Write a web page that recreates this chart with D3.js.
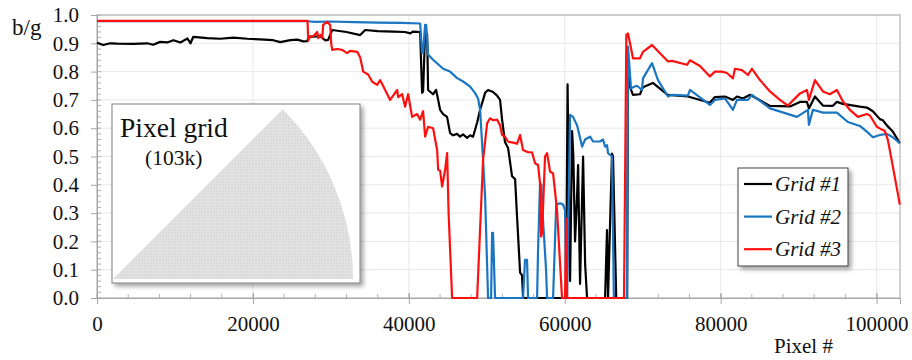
<!DOCTYPE html>
<html>
<head>
<meta charset="utf-8">
<script src="https://cdn.jsdelivr.net/npm/d3@7"></script>
<style>
  body { margin: 0; background: #fff; }
  svg text { font-family: "Liberation Serif", "DejaVu Serif", "Noto Serif", serif; }
</style>
</head>
<body>
<div id="chart"></div>
<script>
// Series values: [pixel #, b/g]
var grid1 = [
  [0,0.902],[800,0.894],[1700,0.900],[2600,0.899],[4650,0.898],[6450,0.900],[7200,0.895],[8100,0.905],
  [9000,0.903],[9800,0.911],[10700,0.903],[11600,0.917],[12000,0.900],[12350,0.923],[14150,0.918],
  [15800,0.916],[17500,0.920],[19300,0.916],[20900,0.914],[22600,0.911],[23500,0.904],[24800,0.911],
  [25700,0.913],[26450,0.907],[27000,0.908],[27100,0.923],[28600,0.925],[29300,0.910],[29650,0.912],
  [30170,0.947],[32000,0.940],[33760,0.929],[34400,0.947],[36000,0.943],[38000,0.941],[39500,0.940],
  [40200,0.935],[40500,0.941],[41450,0.940],[41700,0.725],[41830,0.730],[42090,0.945],[42350,0.930],
  [42470,0.735],[43110,0.720],[43500,0.735],[43760,0.700],[44010,0.665],[44400,0.650],[44900,0.640],
  [45290,0.583],[45680,0.575],[46190,0.580],[46570,0.570],[46960,0.578],[47470,0.566],[47860,0.575],
  [48240,0.570],[48760,0.620],[49140,0.665],[49520,0.700],[49780,0.725],[50160,0.735],[50800,0.728],
  [51320,0.715],[51700,0.700],[51960,0.630],[52340,0.550],[52730,0.530],[53240,0.430],[53630,0.420],
  [53880,0.287],[54270,0.090],[54520,0.080],[54650,0],[60170,0],[60360,0.755],[60550,0.300],
  [60680,0.060],[60940,0.590],[61100,0.500],[61320,0.200],[61580,0.360],[61710,0.470],[61960,0.050],
  [62350,0.500],[62610,0.120],[62860,0],[65170,0],[65420,0.240],[65550,0],[66060,0.510],[66190,0.500],
  [66600,0],[68000,0],[68110,0.806],[68370,0.745],[68750,0.718],[69650,0.720],[70030,0.745],
  [71300,0.760],[73200,0.718],[75800,0.712],[78600,0.690],[79260,0.710],[80550,0.712],[81570,0.700],
  [82090,0.712],[82860,0.705],[83760,0.718],[86320,0.679],[88890,0.677],[90170,0.693],[91060,0.693],
  [91320,0.670],[92090,0.712],[93110,0.680],[94390,0.679],[94900,0.693],[95670,0.686],[97850,0.676],
  [98750,0.673],[99520,0.660],[100420,0.632],[100800,0.628],[101310,0.610],[102080,0.588],[102980,0.547]
];
var grid2 = [
  [0,0.978],[27000,0.978],[28000,0.976],[30000,0.977],[33000,0.975],[36000,0.973],[39000,0.972],
  [41450,0.970],[41700,0.866],[41830,0.866],[42090,0.965],[42220,0.965],[42470,0.860],[43110,0.842],
  [44400,0.810],[45290,0.800],[46190,0.777],[46960,0.765],[47860,0.747],[48500,0.724],[48880,0.705],
  [49140,0.665],[49400,0.546],[49780,0.360],[50160,0],[50550,0],[50680,0.230],[50800,0.230],[51060,0],
  [54650,0],[54900,0.135],[55160,0.135],[55290,0],[56450,0],[56570,0.165],[56830,0.405],[57000,0.400],
  [57210,0.276],[57600,0.100],[57730,0],[58500,0],[58900,0.330],[59400,0.335],[59780,0.330],
  [60040,0.310],[60170,0],[60300,0],[60680,0.647],[61060,0.640],[61580,0.610],[62220,0.535],
  [62610,0.560],[63250,0.570],[63630,0.553],[64530,0.553],[64910,0.560],[65170,0.535],[65420,0.540],
  [65550,0.512],[66060,0.500],[66300,0],[67980,0],[68110,0.888],[68500,0.740],[68750,0.745],
  [69260,0.750],[69910,0.735],[70030,0.776],[71190,0.830],[71960,0.770],[73240,0.712],[73750,0.718],
  [75800,0.715],[76060,0.735],[78620,0.682],[79260,0.700],[80550,0.705],[81570,0.665],[82090,0.700],
  [83500,0.700],[84010,0.718],[86320,0.670],[89780,0.640],[91190,0.665],[91320,0.612],[91830,0.665],
  [93110,0.655],[94900,0.655],[96320,0.622],[97850,0.608],[98750,0.588],[99520,0.568],[100420,0.576],
  [101310,0.580],[102080,0.568],[102980,0.547]
];
var grid3 = [
  [0,0.979],[27000,0.979],[27100,0.910],[27350,0.925],[27730,0.925],[28250,0.940],[28370,0.918],
  [28630,0.930],[28890,0.918],[29010,0.965],[29520,0.976],[29910,0.965],[30040,0.900],[30170,0.877],
  [30800,0.880],[31450,0.877],[32080,0.865],[32470,0.873],[33380,0.870],[33760,0.850],[34140,0.800],
  [34780,0.790],[35300,0.764],[35940,0.753],[36320,0.770],[36960,0.735],[37600,0.700],[37990,0.715],
  [38500,0.735],[38630,0.710],[39140,0.720],[39520,0.676],[39910,0.720],[40420,0.640],[41060,0.650],
  [41450,0.630],[41830,0.660],[42090,0.570],[42470,0.605],[43110,0.600],[43630,0.523],[43760,0.453],
  [44010,0.450],[44270,0.394],[44650,0.453],[44910,0.512],[45100,0.300],[45550,0],[48760,0],
  [49520,0.488],[50040,0.617],[50420,0.635],[50800,0.628],[51320,0.630],[51700,0.610],[51960,0.576],
  [52340,0.570],[52730,0.552],[53240,0.550],[53880,0.545],[54270,0.576],[54650,0.523],[55290,0.515],
  [55800,0.515],[56190,0.476],[56570,0.470],[56830,0.405],[56960,0.217],[57090,0.230],[57470,0.500],
  [57730,0.512],[58110,0.447],[58500,0.440],[59010,0.310],[59400,0.120],[59650,0],[60040,0],
  [60170,0.280],[60300,0],[67600,0],[67900,0.930],[68110,0.935],[68370,0.900],[68750,0.847],
  [69650,0.847],[70030,0.870],[71190,0.894],[72210,0.865],[73240,0.836],[73750,0.838],[75680,0.824],
  [76060,0.840],[77340,0.820],[78620,0.783],[79260,0.800],[80160,0.800],[80800,0.795],[81570,0.776],
  [81830,0.810],[82730,0.805],[83500,0.788],[84010,0.810],[85040,0.770],[86320,0.730],[87600,0.700],
  [88630,0.680],[90170,0.723],[91060,0.735],[91320,0.700],[92090,0.770],[93110,0.730],[94010,0.720],
  [94900,0.735],[95670,0.695],[96570,0.665],[97600,0.640],[98750,0.650],[99140,0.645],[100030,0.605],
  [100670,0.595],[101060,0.590],[101440,0.559],[102080,0.465],[102980,0.330]
];

var seriesNames = ["Grid #1", "Grid #2", "Grid #3"];
var seriesColors = ["#000000", "#1a75c2", "#ff1010"];
var xTicks = [0, 20000, 40000, 60000, 80000, 100000];
var yTicks = [0, 0.1, 0.2, 0.3, 0.4, 0.5, 0.6, 0.7, 0.8, 0.9, 1.0];
var xDomain = [0, 103000];

var serif = "'Liberation Serif', 'DejaVu Serif', 'Noto Serif', serif";
var fullWidth = 912, fullHeight = 360;
var margin = { top: 15, right: 12, bottom: 62, left: 97 };
var width = fullWidth - margin.left - margin.right;
var height = fullHeight - margin.top - margin.bottom;

var svg = d3.select("#chart").append("svg")
    .attr("width", fullWidth)
    .attr("height", fullHeight)
    .attr("font-family", serif);

// drop shadow used by the inset and the legend
var defs = svg.append("defs");
var shadow = defs.append("filter").attr("id", "shadow")
    .attr("x", "-10%").attr("y", "-10%").attr("width", "130%").attr("height", "130%");
shadow.append("feDropShadow").attr("dx", 3).attr("dy", 3).attr("stdDeviation", 2)
    .attr("flood-color", "#000").attr("flood-opacity", 0.35);

// fine grid texture for the pixel grid picture
var pat = defs.append("pattern").attr("id", "pix").attr("width", 3).attr("height", 3)
    .attr("patternUnits", "userSpaceOnUse");
pat.append("rect").attr("width", 3).attr("height", 3).attr("fill", "#dadada");
pat.append("path").attr("d", "M0,0.5H3M0.5,0V3").attr("stroke", "#e3e3e3").attr("stroke-width", 1);

var g = svg.append("g").attr("transform", "translate(" + margin.left + "," + margin.top + ")");

var x = d3.scaleLinear().domain(xDomain).range([0, width]);
var y = d3.scaleLinear().domain([0, 1]).range([height, 0]);

// gridlines
g.append("g").selectAll("line").data(yTicks.slice(1)).enter().append("line")
    .attr("x1", 0).attr("x2", width)
    .attr("y1", function(d) { return y(d); }).attr("y2", function(d) { return y(d); })
    .attr("stroke", "#e8e8e8");
g.append("g").selectAll("line").data(xTicks.slice(1)).enter().append("line")
    .attr("y1", 0).attr("y2", height)
    .attr("x1", function(d) { return x(d); }).attr("x2", function(d) { return x(d); })
    .attr("stroke", "#e8e8e8");

// plot frame
g.append("rect").attr("width", width).attr("height", height)
    .attr("fill", "none").attr("stroke", "#a6a6a6");

// minor ticks
g.append("g").selectAll("line").data(d3.range(0, 1.0001, 0.02)).enter().append("line")
    .attr("x1", 0).attr("x2", 4)
    .attr("y1", function(d) { return y(d); }).attr("y2", function(d) { return y(d); })
    .attr("stroke", "#b0b0b0");
g.append("g").selectAll("line").data(d3.range(0, 103000, 4000)).enter().append("line")
    .attr("y1", height).attr("y2", height - 4)
    .attr("x1", function(d) { return x(d); }).attr("x2", function(d) { return x(d); })
    .attr("stroke", "#b0b0b0");

// axes
var yAxis = g.append("g")
    .call(d3.axisLeft(y).tickValues(yTicks).tickFormat(d3.format(".1f")).tickSize(6).tickPadding(12));
var xAxis = g.append("g").attr("transform", "translate(0," + height + ")")
    .call(d3.axisBottom(x).tickValues(xTicks).tickFormat(d3.format("d")).tickSize(6).tickPadding(12));
[yAxis, xAxis].forEach(function(a) {
    a.attr("font-family", serif).attr("font-size", 21);
    a.select(".domain").attr("stroke", "#a6a6a6");
    a.selectAll(".tick line").attr("stroke", "#a6a6a6");
    a.selectAll("text").attr("fill", "#111");
});
xAxis.selectAll(".tick line").attr("y1", -5);

// inset picture of the pixel grid
var inset = g.append("g").attr("transform", "translate(" + (112 - margin.left) + "," + (104 - margin.top) + ")");
inset.append("rect").attr("width", 248).attr("height", 179)
    .attr("fill", "#fff").attr("stroke", "#7f7f7f").attr("filter", "url(#shadow)");
var r = 240;
inset.append("path")
    .attr("d", d3.arc().innerRadius(0).outerRadius(r).startAngle(Math.PI / 4).endAngle(Math.PI / 2)())
    .attr("transform", "translate(1,175)")
    .attr("fill", "url(#pix)");
inset.append("text").attr("x", 8).attr("y", 33).attr("font-size", 27.5).attr("fill", "#111").text("Pixel grid");
inset.append("text").attr("x", 33).attr("y", 61).attr("font-size", 21.5).attr("fill", "#111").text("(103k)");

// series lines
var line = d3.line()
    .x(function(d) { return x(d[0]); })
    .y(function(d) { return y(d[1]); });
[grid1, grid2, grid3].forEach(function(s, i) {
    g.append("path").datum(s)
        .attr("fill", "none")
        .attr("stroke", seriesColors[i])
        .attr("stroke-width", 2.2)
        .attr("stroke-linejoin", "round")
        .attr("d", line);
});

// legend
var legend = g.append("g").attr("transform", "translate(" + (738 - margin.left) + "," + (168 - margin.top) + ")");
legend.append("rect").attr("width", 110).attr("height", 98)
    .attr("fill", "#fff").attr("stroke", "#404040").attr("filter", "url(#shadow)");
seriesNames.forEach(function(name, i) {
    var ly = 16 + i * 32.6;
    legend.append("line").attr("x1", 6).attr("x2", 34).attr("y1", ly).attr("y2", ly)
        .attr("stroke", seriesColors[i]).attr("stroke-width", 2.2);
    legend.append("text").attr("x", 37).attr("y", ly + 7)
        .attr("font-size", 21).attr("font-style", "italic").attr("fill", "#111").text(name);
});

// axis titles
svg.append("text").attr("x", 12).attr("y", 35).attr("font-size", 23).attr("fill", "#111").text("b/g");
svg.append("text").attr("x", 774).attr("y", 353).attr("font-size", 21).attr("fill", "#111").text("Pixel #");
</script>
</body>
</html>
